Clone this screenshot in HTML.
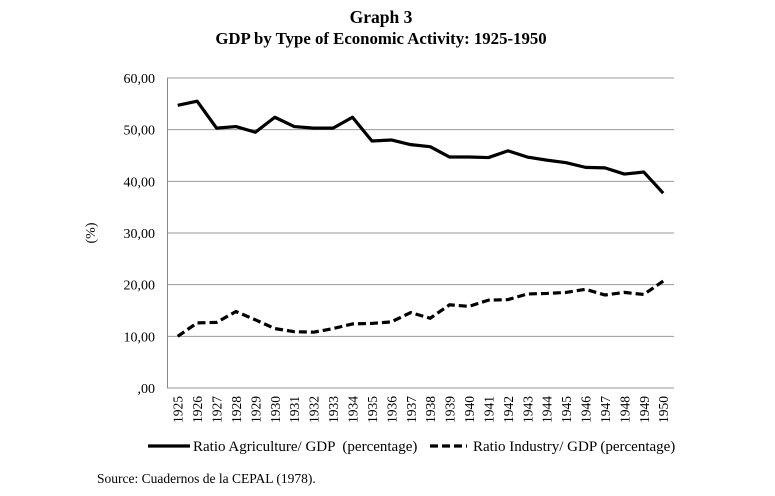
<!DOCTYPE html>
<html><head><meta charset="utf-8"><style>
html,body{margin:0;padding:0;background:#fff;}
svg, svg text{font-family:"Liberation Serif","Times New Roman",serif;}
svg{display:block;}
</style></head><body>
<svg id="s" width="775" height="496" viewBox="0 0 775 496" xmlns="http://www.w3.org/2000/svg">
<text x="381" y="23" text-anchor="middle" font-size="17.5" font-weight="bold">Graph 3</text>
<text x="381" y="44" text-anchor="middle" font-size="16.8" font-weight="bold">GDP by Type of Economic Activity: 1925-1950</text>
<g id="grid" stroke="#9a9a9a" stroke-width="1"></g>
<line x1="167.5" y1="78" x2="167.5" y2="388" stroke="#888" stroke-width="1"/>
<g id="ylab" font-size="14" text-anchor="end"></g>
<text transform="translate(95,233) rotate(-90)" text-anchor="middle" font-size="14">(%)</text>
<g id="xlab" font-size="13.5"></g>
<polyline id="agr" fill="none" stroke="#000" stroke-width="3.2" stroke-linejoin="round"/>
<polyline id="ind" fill="none" stroke="#000" stroke-width="3.2" stroke-dasharray="8,4"/>
<line x1="148" y1="446" x2="190" y2="446" stroke="#000" stroke-width="3.2"/>
<text x="193" y="451" font-size="15" xml:space="preserve">Ratio Agriculture/ GDP  (percentage)</text>
<line x1="430" y1="446" x2="467" y2="446" stroke="#000" stroke-width="3.2" stroke-dasharray="8,4"/>
<text x="473" y="451" font-size="15">Ratio Industry/ GDP (percentage)</text>
<text x="97" y="483" font-size="13.5">Source: Cuadernos de la CEPAL (1978).</text>
</svg>
<script>
var agr=[54.7,55.5,50.3,50.6,49.5,52.4,50.6,50.3,50.3,52.4,47.8,48.0,47.1,46.7,44.7,44.7,44.6,45.9,44.7,44.1,43.6,42.7,42.6,41.4,41.8,37.7];
var ind=[10.0,12.6,12.7,14.8,13.2,11.5,10.9,10.8,11.5,12.4,12.5,12.8,14.6,13.5,16.1,15.8,17.0,17.1,18.2,18.3,18.5,19.1,18.0,18.5,18.1,20.7];
var NS="http://www.w3.org/2000/svg";
function Y(v){return 388-v*5.167;}
function X(i){return 168+19.42*(i+0.5);}
var g=document.getElementById('grid'),yl=document.getElementById('ylab'),xl=document.getElementById('xlab');
for(var k=0;k<=6;k++){var y=Y(k*10);
 var l=document.createElementNS(NS,'line');l.setAttribute('x1',167);l.setAttribute('x2',674);l.setAttribute('y1',y);l.setAttribute('y2',y);g.appendChild(l);
 var t=document.createElementNS(NS,'text');t.setAttribute('x',155);t.setAttribute('y',y+5);t.textContent=k==0?',00':(k*10)+',00';yl.appendChild(t);}
for(var i=0;i<26;i++){var t=document.createElementNS(NS,'text');var x=X(i)+5;
 t.setAttribute('transform','translate('+x+',396) rotate(-90)');t.setAttribute('text-anchor','end');t.textContent=1925+i;xl.appendChild(t);}
document.getElementById('agr').setAttribute('points',agr.map(function(v,i){return X(i)+','+Y(v)}).join(' '));
document.getElementById('ind').setAttribute('points',ind.map(function(v,i){return X(i)+','+Y(v)}).join(' '));
</script>
</body></html>
